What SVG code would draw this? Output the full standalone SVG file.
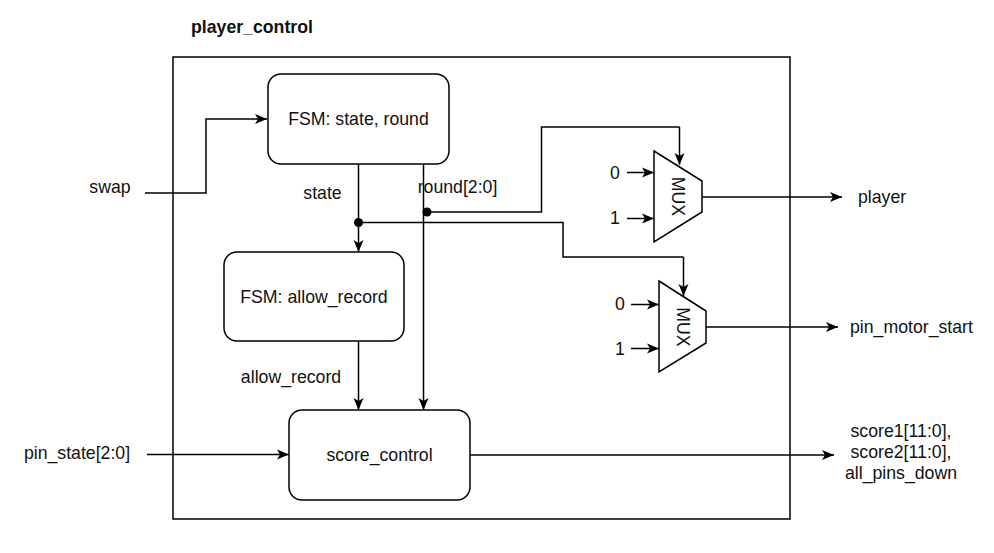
<svg xmlns="http://www.w3.org/2000/svg" width="994" height="553" viewBox="0 0 994 553">
<defs>
<marker id="arr" markerUnits="userSpaceOnUse" markerWidth="13" markerHeight="11" viewBox="0 0 13 11" refX="12" refY="5.5" orient="auto">
<path d="M0,0.5 L12,5.5 L0,10.5 L3,5.5 z" fill="#000"/>
</marker>
</defs>
<style>
text{font-family:"Liberation Sans",Arial,sans-serif;font-size:17.7px;fill:#111;}
.c{text-anchor:middle;dominant-baseline:central;}
.box{fill:#fff;stroke:#000;stroke-width:1.5;}
.w{fill:none;stroke:#000;stroke-width:1.5;}
.a{fill:none;stroke:#000;stroke-width:1.5;marker-end:url(#arr);}
</style>
<rect width="994" height="553" fill="#fff"/>
<text id="title" x="191" y="27" style="font-weight:bold;dominant-baseline:central">player_control</text>
<g id="module">
<rect x="173" y="57" width="617" height="462" class="w"/>
</g>
<g id="connectors">
<path class="a" d="M145,193 H206 V119 H267"/>
<path class="a" d="M358.5,164 V252"/>
<path class="a" d="M358.5,341 V410"/>
<path class="a" d="M423.5,164 V410"/>
<path class="w" d="M427,212 H541.5 V127 H679.5"/>
<path class="a" d="M679.5,127 V165"/>
<path class="w" d="M358.5,222.5 H563 V257 H683.5"/>
<path class="a" d="M683.5,257 V296"/>
<path class="a" d="M147,454.5 H289"/>
<path class="a" d="M470,455 H834"/>
<path class="a" d="M702,197 H842"/>
<path class="a" d="M706,327 H838"/>
<path class="a" d="M627,172.5 H654"/>
<path class="a" d="M627,218.5 H654"/>
<path class="a" d="M631,304.5 H659"/>
<path class="a" d="M631,348.5 H659"/>
<circle cx="358.5" cy="222.5" r="4.5" fill="#000"/>
<circle cx="427" cy="212" r="4.5" fill="#000"/>
</g>
<g id="fsm_state_round">
<rect x="268" y="74" width="181" height="90" rx="13" class="box"/>
<text x="358.5" y="119" class="c">FSM: state, round</text>
</g>
<g id="fsm_allow_record">
<rect x="224" y="252" width="180" height="89" rx="13" class="box"/>
<text x="314" y="297" class="c">FSM: allow_record</text>
</g>
<g id="score_control">
<rect x="289" y="410" width="181" height="90" rx="13" class="box"/>
<text x="379.5" y="455" class="c">score_control</text>
</g>
<g id="mux_player">
<path d="M654,151 L702,181 L702,212 L654,242 Z" class="box"/>
<text x="678" y="196.5" class="c" transform="rotate(90 678 196.5)">MUX</text>
</g>
<g id="mux_pin_motor">
<path d="M659,281 L706,311 L706,343 L659,372 Z" class="box"/>
<text x="682.5" y="327" class="c" transform="rotate(90 682.5 327)">MUX</text>
</g>
<g id="labels">
<text x="110" y="187" class="c">swap</text>
<text x="322.5" y="193" class="c">state</text>
<text x="457.5" y="187" class="c">round[2:0]</text>
<text x="291" y="377" class="c">allow_record</text>
<text x="77" y="453" class="c">pin_state[2:0]</text>
<text x="615" y="173" class="c">0</text>
<text x="615" y="218" class="c">1</text>
<text x="620" y="304" class="c">0</text>
<text x="620" y="349" class="c">1</text>
<text x="858" y="197" style="dominant-baseline:central">player</text>
<text x="850" y="327" style="dominant-baseline:central">pin_motor_start</text>
<text x="901" y="431" class="c">score1[11:0],</text>
<text x="901" y="452" class="c">score2[11:0],</text>
<text x="901" y="473" class="c">all_pins_down</text>
</g>
</svg>
